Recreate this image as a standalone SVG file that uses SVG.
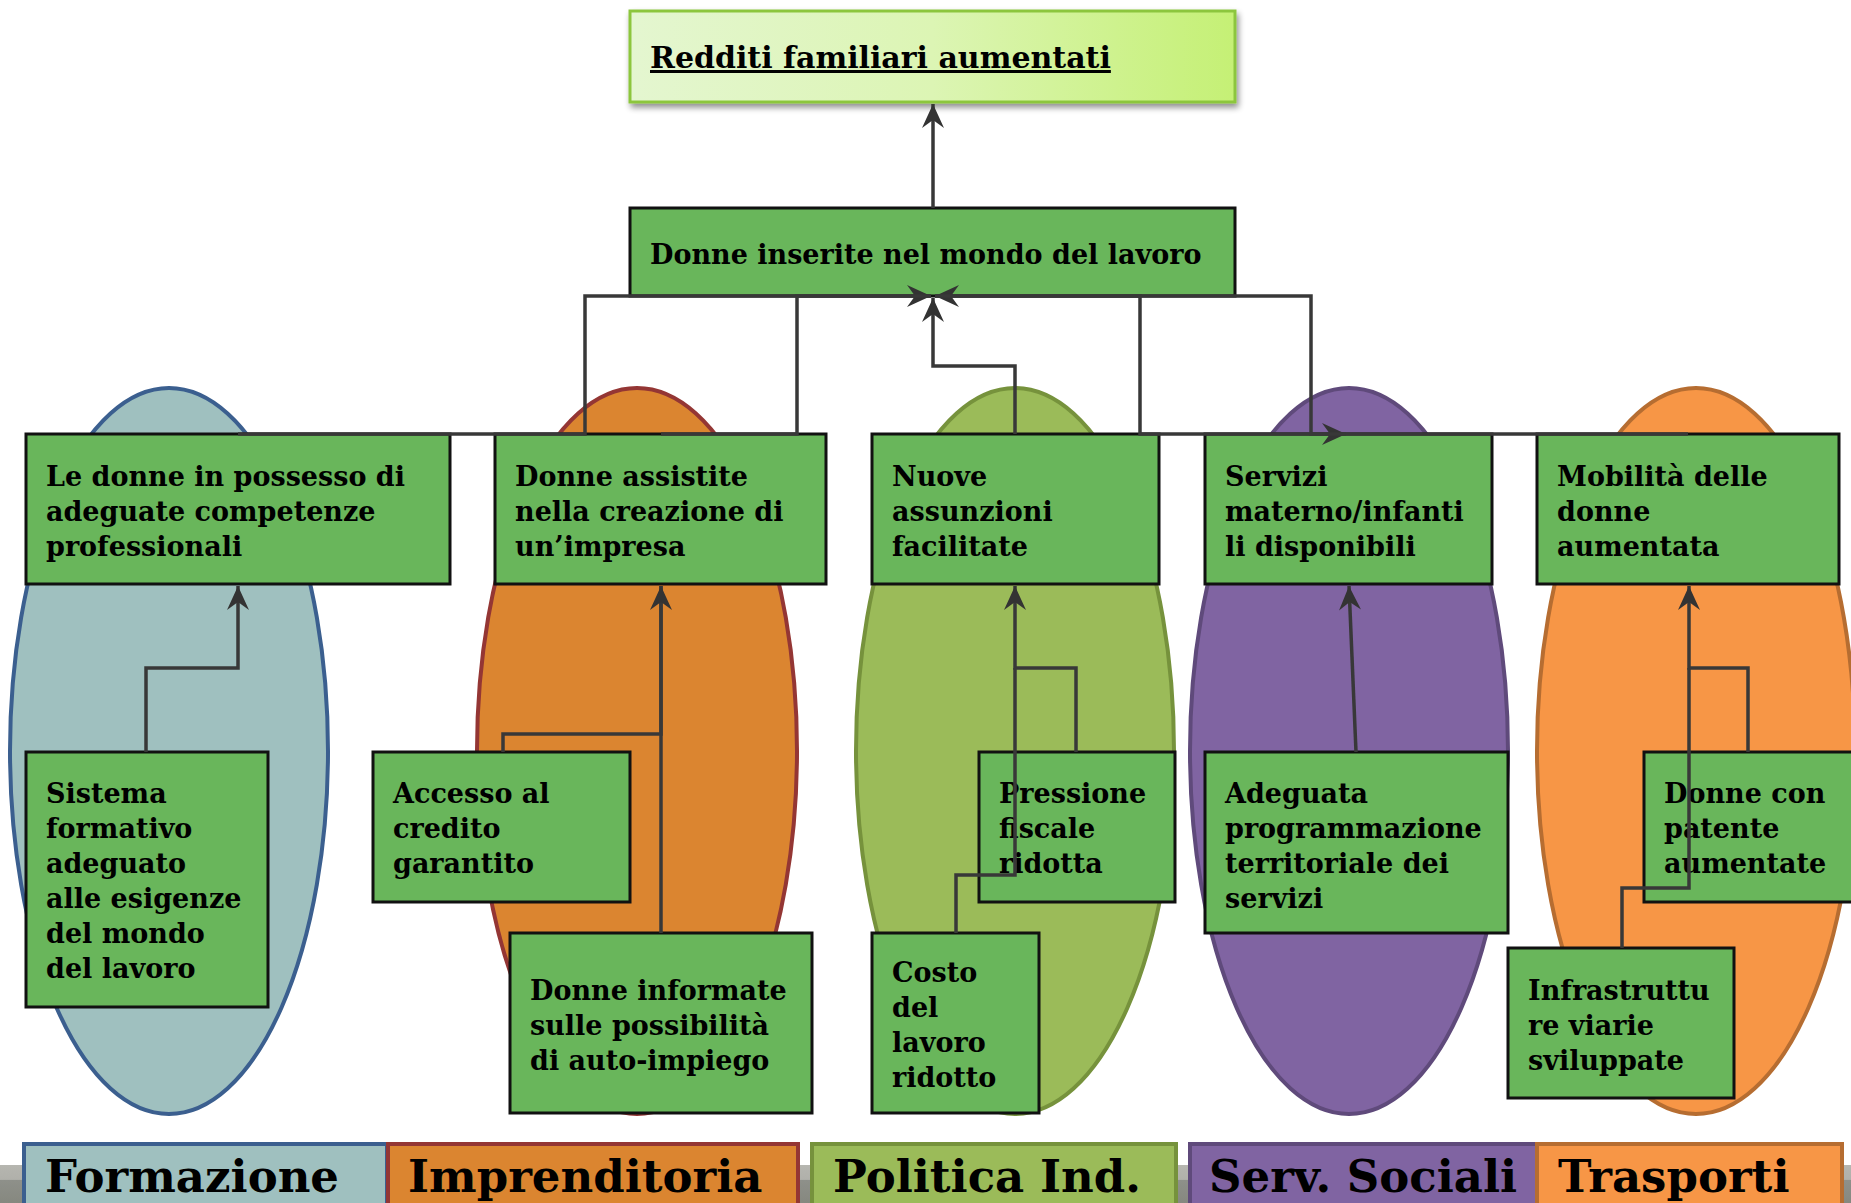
<svg xmlns="http://www.w3.org/2000/svg" width="1851" height="1203" viewBox="0 0 1851 1203">
  <defs>
    <linearGradient id="goalFill" x1="0" y1="0" x2="1" y2="0">
      <stop offset="0" stop-color="#e4f6d0"/>
      <stop offset="0.5" stop-color="#dcf5b4"/>
      <stop offset="1" stop-color="#c5f075"/>
    </linearGradient>
    <linearGradient id="bandFill" x1="0" y1="0" x2="0" y2="1">
      <stop offset="0" stop-color="#b6b6b0"/>
      <stop offset="0.38" stop-color="#b0b0aa"/>
      <stop offset="0.4" stop-color="#8e908a"/>
      <stop offset="1" stop-color="#86887f"/>
    </linearGradient>
    <filter id="shadow" x="-5%" y="-10%" width="112%" height="135%">
      <feGaussianBlur in="SourceAlpha" stdDeviation="3"/>
      <feOffset dx="2" dy="4" result="b"/>
      <feComponentTransfer><feFuncA type="linear" slope="0.45"/></feComponentTransfer>
      <feMerge><feMergeNode/><feMergeNode in="SourceGraphic"/></feMerge>
    </filter>
    <marker id="arrow" viewBox="-26 -13 28 26" markerWidth="28" markerHeight="26" refX="0" refY="0" orient="auto" markerUnits="userSpaceOnUse">
      <path d="M0,0 L-24,-11 L-16,0 L-24,11 Z" fill="#333"/>
    </marker>
    <marker id="arrowRev" viewBox="-26 -13 28 26" markerWidth="28" markerHeight="26" refX="0" refY="0" orient="auto-start-reverse" markerUnits="userSpaceOnUse">
      <path d="M0,0 L-24,-11 L-16,0 L-24,11 Z" fill="#333"/>
    </marker>
    <style>
      .box { fill: #69b65b; stroke: #111; stroke-width: 3; }
      .t { font-family: "DejaVu Serif", "Liberation Serif", serif; font-weight: bold; font-size: 27px; fill: #000; }
      .big { font-size: 30px; }
      .leg { font-family: "DejaVu Serif", "Liberation Serif", serif; font-weight: bold; font-size: 45px; fill: #000; }
      .conn { fill: none; stroke: #383838; stroke-width: 3.5; }
      .ell { stroke-width: 4; }
    </style>
  </defs>

  <rect width="1851" height="1203" fill="#fff"/>

  <!-- category ellipses -->
  <g id="areas">
    <ellipse class="ell" cx="169" cy="751" rx="159" ry="363" fill="#9fc0bf" stroke="#3b5f8f"/>
    <ellipse class="ell" cx="637" cy="751" rx="160" ry="363" fill="#db8530" stroke="#943634"/>
    <ellipse class="ell" cx="1015" cy="751" rx="159" ry="363" fill="#9bbb59" stroke="#76923c"/>
    <ellipse class="ell" cx="1349" cy="751" rx="159" ry="363" fill="#8064a2" stroke="#5f4a7b"/>
    <ellipse class="ell" cx="1696" cy="751" rx="159" ry="363" fill="#f79646" stroke="#b66d31"/>
  </g>

  <!-- goal -->
  <g id="goal">
    <rect x="630" y="11" width="605" height="91" fill="url(#goalFill)" stroke="#8cc63e" stroke-width="3" filter="url(#shadow)"/>
    <text class="t big" x="650" y="68" text-decoration="underline">Redditi familiari aumentati</text>
  </g>

  <g id="purpose">
    <rect class="box" x="630" y="208" width="605" height="88"/>
    <text class="t" x="650" y="264">Donne inserite nel mondo del lavoro</text>
  </g>

  <!-- results row -->
  <g id="competenze">
    <rect class="box" x="26" y="434" width="424" height="150"/>
    <text class="t" x="46" y="486">Le donne in possesso di</text>
    <text class="t" x="46" y="521">adeguate competenze</text>
    <text class="t" x="46" y="556">professionali</text>
  </g>
  <g id="impresa">
    <rect class="box" x="495" y="434" width="331" height="150"/>
    <text class="t" x="515" y="486">Donne assistite</text>
    <text class="t" x="515" y="521">nella creazione di</text>
    <text class="t" x="515" y="556">un’impresa</text>
  </g>
  <g id="assunzioni">
    <rect class="box" x="872" y="434" width="287" height="150"/>
    <text class="t" x="892" y="486">Nuove</text>
    <text class="t" x="892" y="521">assunzioni</text>
    <text class="t" x="892" y="556">facilitate</text>
  </g>
  <g id="servizi">
    <rect class="box" x="1205" y="434" width="287" height="150"/>
    <text class="t" x="1225" y="486">Servizi</text>
    <text class="t" x="1225" y="521">materno/infanti</text>
    <text class="t" x="1225" y="556">li disponibili</text>
  </g>
  <g id="mobilita">
    <rect class="box" x="1537" y="434" width="302" height="150"/>
    <text class="t" x="1557" y="486">Mobilità delle</text>
    <text class="t" x="1557" y="521">donne</text>
    <text class="t" x="1557" y="556">aumentata</text>
  </g>

  <!-- activities row -->
  <g id="formativo">
    <rect class="box" x="26" y="752" width="242" height="255"/>
    <text class="t" x="46" y="803">Sistema</text>
    <text class="t" x="46" y="838">formativo</text>
    <text class="t" x="46" y="873">adeguato</text>
    <text class="t" x="46" y="908">alle esigenze</text>
    <text class="t" x="46" y="943">del mondo</text>
    <text class="t" x="46" y="978">del lavoro</text>
  </g>
  <g id="credito">
    <rect class="box" x="373" y="752" width="257" height="150"/>
    <text class="t" x="393" y="803">Accesso al</text>
    <text class="t" x="393" y="838">credito</text>
    <text class="t" x="393" y="873">garantito</text>
  </g>
  <g id="informate">
    <rect class="box" x="510" y="933" width="302" height="180"/>
    <text class="t" x="530" y="1000">Donne informate</text>
    <text class="t" x="530" y="1035">sulle possibilità</text>
    <text class="t" x="530" y="1070">di auto-impiego</text>
  </g>
  <g id="fiscale">
    <rect class="box" x="979" y="752" width="196" height="150"/>
    <text class="t" x="999" y="803">Pressione</text>
    <text class="t" x="999" y="838">fiscale</text>
    <text class="t" x="999" y="873">ridotta</text>
  </g>
  <g id="costo">
    <rect class="box" x="872" y="933" width="167" height="180"/>
    <text class="t" x="892" y="982">Costo</text>
    <text class="t" x="892" y="1017">del</text>
    <text class="t" x="892" y="1052">lavoro</text>
    <text class="t" x="892" y="1087">ridotto</text>
  </g>
  <g id="programmazione">
    <rect class="box" x="1205" y="752" width="303" height="181"/>
    <text class="t" x="1225" y="803">Adeguata</text>
    <text class="t" x="1225" y="838">programmazione</text>
    <text class="t" x="1225" y="873">territoriale dei</text>
    <text class="t" x="1225" y="908">servizi</text>
  </g>
  <g id="patente">
    <rect class="box" x="1644" y="752" width="220" height="150"/>
    <text class="t" x="1664" y="803">Donne con</text>
    <text class="t" x="1664" y="838">patente</text>
    <text class="t" x="1664" y="873">aumentate</text>
  </g>
  <g id="infrastrutture">
    <rect class="box" x="1508" y="948" width="226" height="150"/>
    <text class="t" x="1528" y="1000">Infrastruttu</text>
    <text class="t" x="1528" y="1035">re viarie</text>
    <text class="t" x="1528" y="1070">sviluppate</text>
  </g>

  <!-- connectors -->
  <g id="connectors" class="conn">
    <path d="M933,208 V104" marker-end="url(#arrow)"/>
    <path d="M238,434 H585 V296 H931" marker-end="url(#arrow)"/>
    <path d="M661,434 H797 V296 H931"/>
    <path d="M1015,434 V366 H933 V298" marker-end="url(#arrow)"/>
    <path d="M1346,434 H1311 V296 H935" marker-start="url(#arrowRev)" marker-end="url(#arrow)"/>
    <path d="M1688,434 H1140 V296 H935"/>
    <path d="M146,752 V668 H238 V586" marker-end="url(#arrow)"/>
    <path d="M503,752 V734 H661 V586"/>
    <path d="M661,933 V586" marker-end="url(#arrow)"/>
    <path d="M1076,752 V668 H1015 V586" marker-end="url(#arrow)"/>
    <path d="M956,933 V875 H1015 V668"/>
    <path d="M1356,752 L1349,586" marker-end="url(#arrow)"/>
    <path d="M1748,752 V668 H1689 V586" marker-end="url(#arrow)"/>
    <path d="M1622,948 V888 H1689 V668"/>
  </g>

  <!-- legend -->
  <g id="legend">
    <rect x="0" y="1165" width="1851" height="38" fill="url(#bandFill)"/>
    <g id="leg-formazione">
      <rect x="24" y="1144" width="363" height="70" fill="#9fc0bf" stroke="#3b5f8f" stroke-width="4"/>
      <text class="leg" x="45" y="1192">Formazione</text>
    </g>
    <g id="leg-imprenditoria">
      <rect x="388" y="1144" width="410" height="70" fill="#db8530" stroke="#943634" stroke-width="4"/>
      <text class="leg" x="408" y="1192">Imprenditoria</text>
    </g>
    <g id="leg-politica">
      <rect x="812" y="1144" width="364" height="70" fill="#9bbb59" stroke="#76923c" stroke-width="4"/>
      <text class="leg" x="833" y="1192">Politica Ind.</text>
    </g>
    <g id="leg-servizi">
      <rect x="1190" y="1144" width="347" height="70" fill="#8064a2" stroke="#5f4a7b" stroke-width="4"/>
      <text class="leg" x="1209" y="1192">Serv. Sociali</text>
    </g>
    <g id="leg-trasporti">
      <rect x="1537" y="1144" width="305" height="70" fill="#f79646" stroke="#b66d31" stroke-width="4"/>
      <text class="leg" x="1558" y="1192">Trasporti</text>
    </g>
  </g>
</svg>
